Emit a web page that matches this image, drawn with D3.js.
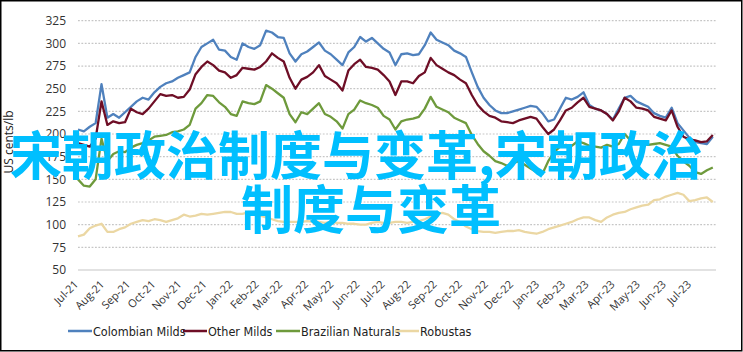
<!DOCTYPE html>
<html><head><meta charset="utf-8">
<script src="https://cdn.jsdelivr.net/npm/d3@7"></script>
<style>
html,body{margin:0;padding:0;background:#fff;}
svg{display:block;}
</style></head>
<body>
<svg id="chart" width="743" height="352"></svg>
<script>
// ---- data (weekly samples starting 1 Jul 2021) ----
const startDate = "2021-07-01";
const seriesNames = ["Colombian Milds", "Other Milds", "Brazilian Naturals", "Robustas"];
const colombianMilds = [205,203,208,212,255,218,222,218,224,230,236,240,238,246,252,256,258,262,265,268,
 285,296,300,304,293,292,285,282,300,296,294,298,314,312,307,306,289,280,288,291,
 296,301,292,288,282,276,290,296,307,302,306,300,294,290,276,288,289,287,288,298,
 312,304,301,298,292,289,285,268,252,240,232,226,223,223,225,227,229,231,230,223,
 214,216,228,240,238,241,246,232,228,226,222,216,228,240,242,236,233,230,223,220,
 218,229,212,204,196,191,190,189,197];
const otherMilds = [190,188,186,195,236,210,214,212,213,228,224,222,228,236,244,242,243,240,241,249,
 266,274,280,276,270,268,262,265,273,272,271,274,280,289,284,280,262,250,260,263,
 268,276,264,260,256,248,270,277,282,274,273,271,265,258,243,258,258,256,264,268,
 284,276,272,268,265,260,256,243,232,225,220,218,214,213,212,215,217,219,217,208,
 200,205,215,226,229,235,240,230,228,226,222,215,225,240,236,229,228,226,219,217,
 215,226,208,197,194,193,191,192,199];
const brazilianNaturals = [150,143,142,150,195,170,178,181,180,185,188,190,193,197,198,199,202,203,205,210,
 228,234,243,242,235,230,222,220,236,234,233,236,254,250,245,240,222,213,224,222,
 228,234,222,219,214,206,222,227,237,234,232,229,220,216,205,214,216,217,219,228,
 241,230,227,224,218,215,212,199,189,181,176,170,168,165,168,170,166,162,158,156,
 170,180,186,188,187,192,190,187,186,185,188,186,189,200,193,190,189,188,189,190,
 188,186,176,170,165,158,156,160,163];
const robustas = [87,89,96,99,101,92,92,95,97,101,103,105,104,106,105,103,105,107,111,109,
 110,112,111,112,113,114,114,112,112,114,113,110,108,106,104,103,103,103,103,104,
 103,103,102,103,102,102,101,101,100,100,102,103,102,102,103,103,102,103,104,106,
 109,112,113,111,106,103,98,95,93,92,92,91,92,93,93,94,92,91,90,92,
 95,97,99,101,103,106,108,108,105,103,108,111,113,114,117,119,121,122,127,128,
 131,133,135,133,126,127,129,130,125];
const yTicks = [50,75,100,125,150,175,200,225,250,275,300,325];
const yTitle = "US cents/lb";
const overlayLines = ["宋朝政治制度与变革,宋朝政治", "制度与变革"];
const colors = ["#4f81bd", "#6e0e26", "#6e9a3c", "#ebd7a3"];

// ---- build ----
const svg = d3.select("#chart");
const parse = d3.timeParse("%Y-%m-%d");
const t0 = parse(startDate);
const dates = colombianMilds.map((_, i) => d3.timeDay.offset(t0, 7 * i));
const allSeries = [colombianMilds, otherMilds, brazilianNaturals, robustas];

const x = d3.scaleTime().domain([parse("2021-07-01"), parse("2023-08-01")]).range([78, 717]);
const y = d3.scaleLinear().domain([50, 325]).range([270, 20.7]);

// frame
svg.append("rect").attr("x", 0.75).attr("y", 0.75).attr("width", 741).attr("height", 350)
  .attr("fill", "none").attr("stroke", "#000").attr("stroke-width", 1.5);

// gridlines
svg.append("g").selectAll("line").data(yTicks.filter(v => v !== 50)).join("line")
  .attr("x1", 78).attr("x2", 716)
  .attr("y1", d => y(d)).attr("y2", d => y(d))
  .attr("stroke", "#c6c6c6").attr("stroke-width", 1.2).attr("stroke-dasharray", "1.8,1.6");
svg.append("line").attr("x1", 78).attr("x2", 716).attr("y1", y(50)).attr("y2", y(50))
  .attr("stroke", "#d9d9d9").attr("stroke-width", 1.5);

// y axis labels
const yAxis = d3.axisLeft(y).tickValues(yTicks).tickSize(0).tickPadding(0);
const yg = svg.append("g").attr("transform", "translate(66,0)").call(yAxis);
yg.select(".domain").remove();
yg.selectAll("text").attr("font-family", "'Open Sans', sans-serif").attr("font-size", "12px").attr("fill", "#333");

// x axis labels
const months = d3.timeMonth.range(parse("2021-07-01"), parse("2023-07-02"));
const fmt = d3.timeFormat("%b-%y");
svg.append("g").selectAll("text").data(months).join("text")
  .attr("transform", d => `translate(${x(d) + 1},285) rotate(-45)`)
  .attr("text-anchor", "end")
  .attr("font-family", "'Open Sans', sans-serif").attr("font-size", "11px").attr("fill", "#333")
  .text(d => fmt(d));

// y title
svg.append("text").attr("transform", "translate(13,142) rotate(-90)")
  .attr("text-anchor", "middle").attr("font-family", "'Open Sans', sans-serif")
  .attr("font-size", "12px").attr("fill", "#222").text(yTitle);

// lines
const line = d3.line().x((d, i) => x(dates[i])).y(d => y(d));
svg.append("g").selectAll("path").data(allSeries).join("path")
  .attr("d", d => line(d)).attr("fill", "none")
  .attr("stroke", (d, i) => colors[i]).attr("stroke-width", 2.3)
  .attr("stroke-linejoin", "round");

// legend
const legX = [68, 183, 276, 395];
const lg = svg.append("g").selectAll("g").data(seriesNames).join("g")
  .attr("transform", (d, i) => `translate(${legX[i]},331)`);
lg.append("line").attr("x1", 0).attr("x2", 24).attr("y1", 0).attr("y2", 0)
  .attr("stroke", (d, i) => colors[i]).attr("stroke-width", 2.5);
lg.append("text").attr("x", 25).attr("y", 4.5)
  .attr("font-family", "'Liberation Sans Narrow', 'DejaVu Sans Condensed', sans-serif")
  .attr("font-size", "12.5px").attr("fill", "#222").text(d => d);

// overlay text
const ov = svg.append("g").attr("font-family", "'Noto Sans CJK SC', sans-serif")
  .attr("font-weight", "bold").attr("font-size", "52px").attr("fill", "#00bfff");
ov.append("text").attr("x", 10).attr("y", 175).text(overlayLines[0]);
ov.append("text").attr("x", 241).attr("y", 229).text(overlayLines[1]);
</script>
</body></html>
